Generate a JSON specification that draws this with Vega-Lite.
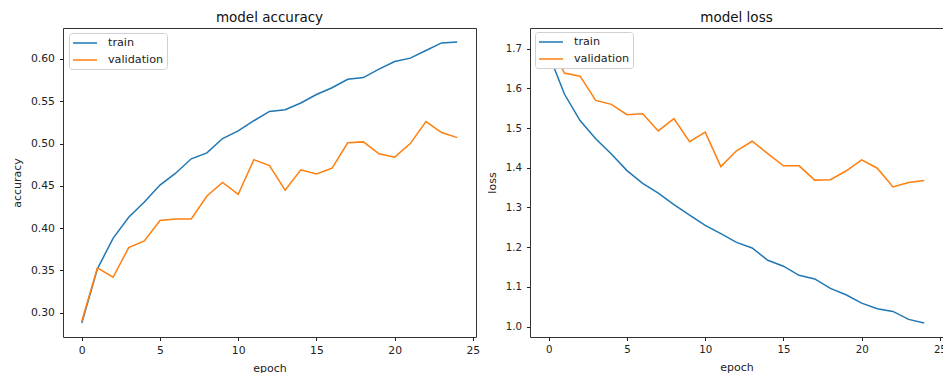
{
  "$schema": "https://vega.github.io/schema/vega-lite/v6.json",
  "background": "white",
  "padding": {"left": 10, "top": 10, "right": 0, "bottom": 0},
  "bounds": "flush",
  "spacing": 54,
  "config": {
    "font": "DejaVu Sans",
    "view": {"stroke": "#333", "strokeWidth": 1},
    "axis": {
      "grid": false,
      "domain": false,
      "tickColor": "#222",
      "tickSize": 3.5,
      "labelColor": "#222",
      "titleColor": "#222",
      "labelFontSize": 10.8,
      "titleFontSize": 11,
      "titleFontWeight": "normal",
      "labelPadding": 5
    },
    "title": {"fontSize": 13.5, "fontWeight": "normal", "color": "#111"},
    "legend": {
      "orient": "none",
      "fillColor": "white",
      "strokeColor": "#d0d0d0",
      "cornerRadius": 3,
      "padding": 3,
      "labelFontSize": 11.2,
      "labelColor": "#222",
      "symbolType": "M-2,0H2",
      "symbolSize": 144,
      "symbolStrokeWidth": 1.5,
      "symbolOffset": 6,
      "labelOffset": 16,
      "rowPadding": 4
    }
  },
  "datasets": {
    "acc": [
      {"epoch": 0, "series": "train", "value": 0.288},
      {"epoch": 1, "series": "train", "value": 0.352},
      {"epoch": 2, "series": "train", "value": 0.388},
      {"epoch": 3, "series": "train", "value": 0.413},
      {"epoch": 4, "series": "train", "value": 0.431},
      {"epoch": 5, "series": "train", "value": 0.451},
      {"epoch": 6, "series": "train", "value": 0.465},
      {"epoch": 7, "series": "train", "value": 0.482},
      {"epoch": 8, "series": "train", "value": 0.489},
      {"epoch": 9, "series": "train", "value": 0.506},
      {"epoch": 10, "series": "train", "value": 0.515},
      {"epoch": 11, "series": "train", "value": 0.527},
      {"epoch": 12, "series": "train", "value": 0.538},
      {"epoch": 13, "series": "train", "value": 0.540},
      {"epoch": 14, "series": "train", "value": 0.548},
      {"epoch": 15, "series": "train", "value": 0.558},
      {"epoch": 16, "series": "train", "value": 0.566},
      {"epoch": 17, "series": "train", "value": 0.576},
      {"epoch": 18, "series": "train", "value": 0.578},
      {"epoch": 19, "series": "train", "value": 0.588},
      {"epoch": 20, "series": "train", "value": 0.597},
      {"epoch": 21, "series": "train", "value": 0.601},
      {"epoch": 22, "series": "train", "value": 0.610},
      {"epoch": 23, "series": "train", "value": 0.619},
      {"epoch": 24, "series": "train", "value": 0.620},
      {"epoch": 0, "series": "validation", "value": 0.290},
      {"epoch": 1, "series": "validation", "value": 0.353},
      {"epoch": 2, "series": "validation", "value": 0.342},
      {"epoch": 3, "series": "validation", "value": 0.377},
      {"epoch": 4, "series": "validation", "value": 0.385},
      {"epoch": 5, "series": "validation", "value": 0.409},
      {"epoch": 6, "series": "validation", "value": 0.411},
      {"epoch": 7, "series": "validation", "value": 0.411},
      {"epoch": 8, "series": "validation", "value": 0.438},
      {"epoch": 9, "series": "validation", "value": 0.454},
      {"epoch": 10, "series": "validation", "value": 0.440},
      {"epoch": 11, "series": "validation", "value": 0.481},
      {"epoch": 12, "series": "validation", "value": 0.474},
      {"epoch": 13, "series": "validation", "value": 0.445},
      {"epoch": 14, "series": "validation", "value": 0.469},
      {"epoch": 15, "series": "validation", "value": 0.464},
      {"epoch": 16, "series": "validation", "value": 0.471},
      {"epoch": 17, "series": "validation", "value": 0.501},
      {"epoch": 18, "series": "validation", "value": 0.502},
      {"epoch": 19, "series": "validation", "value": 0.488},
      {"epoch": 20, "series": "validation", "value": 0.484},
      {"epoch": 21, "series": "validation", "value": 0.500},
      {"epoch": 22, "series": "validation", "value": 0.526},
      {"epoch": 23, "series": "validation", "value": 0.513},
      {"epoch": 24, "series": "validation", "value": 0.507}
    ],
    "loss": [
      {"epoch": 0, "series": "train", "value": 1.686},
      {"epoch": 1, "series": "train", "value": 1.586},
      {"epoch": 2, "series": "train", "value": 1.519},
      {"epoch": 3, "series": "train", "value": 1.473},
      {"epoch": 4, "series": "train", "value": 1.435},
      {"epoch": 5, "series": "train", "value": 1.393},
      {"epoch": 6, "series": "train", "value": 1.361},
      {"epoch": 7, "series": "train", "value": 1.336},
      {"epoch": 8, "series": "train", "value": 1.307},
      {"epoch": 9, "series": "train", "value": 1.281},
      {"epoch": 10, "series": "train", "value": 1.255},
      {"epoch": 11, "series": "train", "value": 1.234},
      {"epoch": 12, "series": "train", "value": 1.212},
      {"epoch": 13, "series": "train", "value": 1.198},
      {"epoch": 14, "series": "train", "value": 1.167},
      {"epoch": 15, "series": "train", "value": 1.152},
      {"epoch": 16, "series": "train", "value": 1.129},
      {"epoch": 17, "series": "train", "value": 1.120},
      {"epoch": 18, "series": "train", "value": 1.096},
      {"epoch": 19, "series": "train", "value": 1.080},
      {"epoch": 20, "series": "train", "value": 1.059},
      {"epoch": 21, "series": "train", "value": 1.045},
      {"epoch": 22, "series": "train", "value": 1.038},
      {"epoch": 23, "series": "train", "value": 1.018},
      {"epoch": 24, "series": "train", "value": 1.009},
      {"epoch": 0, "series": "validation", "value": 1.717},
      {"epoch": 1, "series": "validation", "value": 1.639},
      {"epoch": 2, "series": "validation", "value": 1.631},
      {"epoch": 3, "series": "validation", "value": 1.570},
      {"epoch": 4, "series": "validation", "value": 1.560},
      {"epoch": 5, "series": "validation", "value": 1.534},
      {"epoch": 6, "series": "validation", "value": 1.536},
      {"epoch": 7, "series": "validation", "value": 1.493},
      {"epoch": 8, "series": "validation", "value": 1.524},
      {"epoch": 9, "series": "validation", "value": 1.466},
      {"epoch": 10, "series": "validation", "value": 1.490},
      {"epoch": 11, "series": "validation", "value": 1.403},
      {"epoch": 12, "series": "validation", "value": 1.443},
      {"epoch": 13, "series": "validation", "value": 1.467},
      {"epoch": 14, "series": "validation", "value": 1.436},
      {"epoch": 15, "series": "validation", "value": 1.405},
      {"epoch": 16, "series": "validation", "value": 1.405},
      {"epoch": 17, "series": "validation", "value": 1.369},
      {"epoch": 18, "series": "validation", "value": 1.370},
      {"epoch": 19, "series": "validation", "value": 1.392},
      {"epoch": 20, "series": "validation", "value": 1.420},
      {"epoch": 21, "series": "validation", "value": 1.399},
      {"epoch": 22, "series": "validation", "value": 1.352},
      {"epoch": 23, "series": "validation", "value": 1.363},
      {"epoch": 24, "series": "validation", "value": 1.368}
    ]
  },
  "hconcat": [
    {
      "width": 413,
      "height": 309,
      "title": {"text": "model accuracy", "offset": 4},
      "data": {"name": "acc"},
      "mark": {"type": "line", "strokeWidth": 1.5},
      "encoding": {
        "x": {
          "field": "epoch", "type": "quantitative",
          "scale": {"domain": [-1.2, 25.2], "nice": false, "zero": false},
          "axis": {"values": [0, 5, 10, 15, 20, 25], "title": "epoch", "titlePadding": 7, "labelPadding": 4}
        },
        "y": {
          "field": "value", "type": "quantitative",
          "scale": {"domain": [0.2714, 0.6366], "nice": false, "zero": false},
          "axis": {"values": [0.30, 0.35, 0.40, 0.45, 0.50, 0.55, 0.60], "format": ".2f", "title": "accuracy", "titlePadding": 8}
        },
        "color": {
          "field": "series", "type": "nominal",
          "scale": {"domain": ["train", "validation"], "range": ["#1f77b4", "#ff7f0e"]},
          "legend": {"title": null, "orient": "none", "legendX": 6, "legendY": 5}
        }
      }
    },
    {
      "width": 413,
      "height": 309,
      "title": {"text": "model loss", "offset": 4},
      "data": {"name": "loss"},
      "mark": {"type": "line", "strokeWidth": 1.5},
      "encoding": {
        "x": {
          "field": "epoch", "type": "quantitative",
          "scale": {"domain": [-1.2, 25.2], "nice": false, "zero": false},
          "axis": {"values": [0, 5, 10, 15, 20, 25], "title": "epoch", "titlePadding": 7, "labelPadding": 4, "labelFontSize": 10.2}
        },
        "y": {
          "field": "value", "type": "quantitative",
          "scale": {"domain": [0.9736, 1.7524], "nice": false, "zero": false},
          "axis": {"values": [1.0, 1.1, 1.2, 1.3, 1.4, 1.5, 1.6, 1.7], "format": ".1f", "title": "loss", "titlePadding": 8, "labelFontSize": 10.2}
        },
        "color": {
          "field": "series", "type": "nominal",
          "scale": {"domain": ["train", "validation"], "range": ["#1f77b4", "#ff7f0e"]},
          "legend": {"title": null, "orient": "none", "legendX": 5, "legendY": 4}
        }
      }
    }
  ],
  "resolve": {
    "scale": {"x": "independent", "y": "independent", "color": "independent"},
    "legend": {"color": "independent"}
  }
}
